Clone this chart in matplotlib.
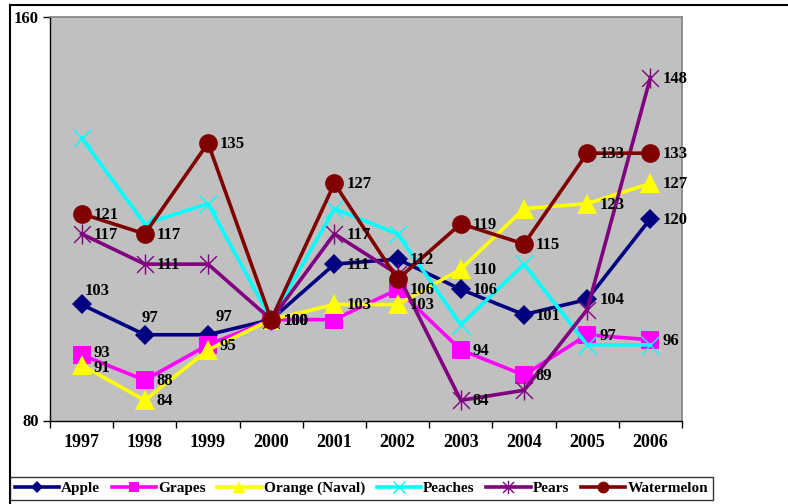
import matplotlib
matplotlib.use("Agg")
import matplotlib.pyplot as plt
from matplotlib.lines import Line2D
from matplotlib.path import Path

years = ["1997", "1998", "1999", "2000", "2001", "2002", "2003", "2004", "2005", "2006"]

apple = [103, 97, 97, 100, 111, 112, 106, 101, 104, 120]
grapes = [93, 88, 95, 100, 100, 106, 94, 89, 97, 96]
orange = [91, 84, 94, 100, 103, 103, 110, 122, 123, 127]
peaches = [136, 119, 123, 100, 122, 117, 99, 111, 95, 95]
pears = [117, 111, 111, 100, 117, 109, 84, 86, 102, 148]
watermelon = [121, 117, 135, 100, 127, 108, 119, 115, 133, 133]

names = ["Apple", "Grapes", "Orange (Naval)", "Peaches", "Pears", "Watermelon"]
series = [apple, grapes, orange, peaches, pears, watermelon]

# which points carry a value label
show_apple = [1] * 10
show_grapes = [1, 1, 1, 1, 0, 1, 1, 1, 1, 1]
show_orange = [1, 1, 0, 1, 1, 1, 1, 0, 1, 1]
show_peaches = [0] * 10
show_pears = [1, 1, 0, 1, 1, 0, 1, 0, 0, 1]
show_watermelon = [1, 1, 1, 1, 1, 0, 1, 1, 1, 1]
shows = [show_apple, show_grapes, show_orange, show_peaches, show_pears, show_watermelon]

star = Path([(-1, -1), (1, 1), (-1, 1), (1, -1), (0, -1.2), (0, 1.2)],
            [Path.MOVETO, Path.LINETO] * 3)

styles = [
    dict(color="#000080", marker="D", ms=10, mew=0),
    dict(color="#FF00FF", marker="s", ms=13, mew=0),
    dict(color="#FFFF00", marker="^", ms=14, mew=0),
    dict(color="#00FFFF", marker="x", ms=13.5, mew=1.0),
    dict(color="#800080", marker=star, ms=14.5, mew=1.0),
    dict(color="#800000", marker="o", ms=13.5, mew=0),
]

W, H = 788, 504
fig = plt.figure(figsize=(W / 100, H / 100), dpi=100)
ax = fig.add_axes([50 / W, 1 - 420.5 / H, 632 / W, 403.5 / H])
ax.set_facecolor("#C0C0C0")

x = list(range(len(years)))
for k, (vals, st) in enumerate(zip(series, styles)):
    face = "none" if st["marker"] == "x" or st["marker"] is star else st["color"]
    ax.plot(x, vals, color=st["color"], lw=2.6, marker=st["marker"], ms=st["ms"],
            mfc=face, mec=st["color"], mew=st["mew"], zorder=3 + k, clip_on=False)

serif = ["Liberation Serif", "DejaVu Serif"]

# default label offset (pixels, right of the point) and a few moved ones
offsets = {(0, 0): (3, 13), (0, 1): (-3, 17), (0, 2): (7, 18),
           (1, 0): (12, 2), (2, 0): (12, -3)}
for k, (vals, show) in enumerate(zip(series, shows)):
    for i, v in enumerate(vals):
        if not show[i]:
            continue
        dx, dy = offsets.get((k, i), (12, -1))
        ax.annotate(str(v), (i, v), xytext=(dx, dy), textcoords="offset pixels",
                    ha="left", va="center", fontsize=12, fontweight="bold",
                    family=serif, color="black", zorder=20, annotation_clip=False)

ax.set_xlim(-0.5, 9.5)
ax.set_ylim(80, 160)
ax.set_yticks([80, 160])
ax.set_yticklabels(["80", "160"], fontsize=12, fontweight="bold", family=serif)
ax.set_xticks(x)
ax.set_xticklabels(years, fontsize=13, fontweight="bold", family=serif)
ax.set_xticks([i - 0.5 for i in range(11)], minor=True)
ax.tick_params(axis="x", which="major", length=0, pad=10)
ax.tick_params(axis="x", which="minor", length=5, width=1, direction="out")
ax.tick_params(axis="y", which="major", length=5, width=1, direction="out", pad=3)

for side in ("left", "bottom"):
    ax.spines[side].set_color("black")
    ax.spines[side].set_linewidth(1)
for side in ("top", "right"):
    ax.spines[side].set_color("#808080")
    ax.spines[side].set_linewidth(1.2)

# outer chart frame
fig.add_artist(Line2D([10 / W, 10 / W], [0, 1 - 5 / H], transform=fig.transFigure,
                      color="black", lw=1.5))
fig.add_artist(Line2D([10 / W, 1], [1 - 5 / H, 1 - 5 / H], transform=fig.transFigure,
                      color="black", lw=1.5))

handles = []
for st, ms in zip(styles, [6.5, 7.5, 8.5, 8.5, 9.5, 8.5]):
    face = "none" if st["marker"] == "x" or st["marker"] is star else st["color"]
    handles.append(Line2D([], [], color=st["color"], lw=2.6, marker=st["marker"], ms=ms,
                          mfc=face, mec=st["color"], mew=st["mew"]))
leg = fig.legend(handles, names, loc="upper left", bbox_to_anchor=(10 / W, 1 - 477 / H),
                 ncol=6, frameon=True, fancybox=False, edgecolor="black",
                 prop=dict(family=serif, weight="bold", size=11),
                 handlelength=2.9, handletextpad=0.15, columnspacing=0.75,
                 borderpad=0.3, borderaxespad=0)
leg.get_frame().set_linewidth(1)

fig.savefig("out.png", dpi=100)
